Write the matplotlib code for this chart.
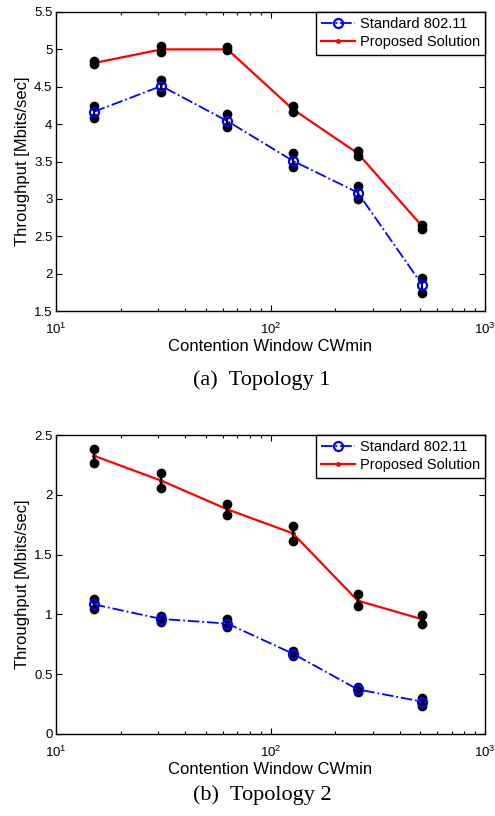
import matplotlib
matplotlib.use("Agg")
import matplotlib.pyplot as plt
from matplotlib.ticker import LogLocator, NullFormatter, FixedLocator

cw = [15, 31, 63, 127, 255, 511]

# Topology 1
t1_std_mean = [4.165, 4.51, 4.04, 3.51, 3.085, 1.845]
t1_std_lo = [4.085, 4.433, 3.955, 3.42, 3.0, 1.746]
t1_std_hi = [4.245, 4.585, 4.13, 3.61, 3.174, 1.942]
t1_prop_mean = [4.817, 5.0, 5.0, 4.20, 3.61, 2.63]
t1_prop_lo = [4.80, 4.97, 4.995, 4.16, 3.576, 2.594]
t1_prop_hi = [4.84, 5.05, 5.03, 4.245, 3.643, 2.647]

# Topology 2
t2_std_mean = [1.084, 0.962, 0.923, 0.672, 0.373, 0.270]
t2_std_lo = [1.042, 0.939, 0.892, 0.652, 0.354, 0.237]
t2_std_hi = [1.126, 0.987, 0.959, 0.691, 0.390, 0.304]
t2_prop_mean = [2.327, 2.118, 1.878, 1.678, 1.115, 0.959]
t2_prop_lo = [2.269, 2.054, 1.834, 1.614, 1.068, 0.920]
t2_prop_hi = [2.383, 2.182, 1.920, 1.742, 1.168, 0.998]

t1_yticks = [1.5, 2, 2.5, 3, 3.5, 4, 4.5, 5, 5.5]
t1_yticklabels = ["1.5", "2", "2.5", "3", "3.5", "4", "4.5", "5", "5.5"]
t2_yticks = [0, 0.5, 1, 1.5, 2, 2.5]
t2_yticklabels = ["0", "0.5", "1", "1.5", "2", "2.5"]

series_labels = ["Standard 802.11", "Proposed Solution"]
captions = ["(a)  Topology 1", "(b)  Topology 2"]
xlabel = "Contention Window CWmin"
ylabel = "Throughput [Mbits/sec]"

plt.rcParams['font.family'] = ['Liberation Sans', 'DejaVu Sans']
plt.rcParams['mathtext.fontset'] = 'custom'
plt.rcParams['mathtext.rm'] = 'Liberation Sans'

fig = plt.figure(figsize=(4.95, 8.16), dpi=100)
W, H = 495, 816
ax1 = fig.add_axes([56 / W, 1 - 311 / H, (485 - 56) / W, (311 - 12) / H])
ax2 = fig.add_axes([56 / W, 1 - 734 / H, (485 - 56) / W, (734 - 435) / H])


def draw(ax, sm, slo, shi, pm, plo, phi, yticks, yticklabels, ylim,
         caption, cap_y):
    # error bars
    for m, lo, hi in ((sm, slo, shi), (pm, plo, phi)):
        ax.vlines(cw, lo, hi, colors='black', linewidth=1.6, zorder=4)
        ax.plot(cw, lo, linestyle='none', marker='o', markersize=6,
                color='black', zorder=5)
        ax.plot(cw, hi, linestyle='none', marker='o', markersize=6,
                color='black', zorder=5)
    ax.plot(cw, sm, color='blue', linestyle='-.', linewidth=1.3,
            marker='o', markersize=6.5, markerfacecolor='none',
            markeredgecolor='blue', markeredgewidth=1.6,
            label=series_labels[0], zorder=6)
    ax.plot(cw, pm, color='red', linestyle='-', linewidth=1.6,
            marker='.', markersize=5, label=series_labels[1], zorder=3)
    ax.set_xscale('log')
    ax.set_xlim(10, 1000)
    ax.set_ylim(*ylim)
    ax.set_yticks(yticks)
    ax.set_yticklabels(yticklabels)
    ax.xaxis.set_major_locator(FixedLocator([10, 100, 1000]))
    ax.set_xticklabels([r'$10^{1}$', r'$10^{2}$', r'$10^{3}$'])
    ax.xaxis.set_minor_locator(LogLocator(base=10, subs=range(2, 10)))
    ax.xaxis.set_minor_formatter(NullFormatter())
    ax.tick_params(which='both', direction='in', top=True, right=True,
                   labelsize=9.5, width=0.8)
    ax.tick_params(axis='y', pad=2.5)
    ax.tick_params(axis='x', pad=7.5)
    ax.tick_params(which='major', length=4)
    ax.tick_params(which='minor', length=2.5)
    for s in ax.spines.values():
        s.set_linewidth(1.0)
    ax.set_xlabel(xlabel, fontsize=12, labelpad=1.5)
    ax.set_ylabel(ylabel, fontsize=12, labelpad=3)
    leg = ax.legend(loc='upper right', fontsize=10.5, fancybox=False,
                    framealpha=1, edgecolor='black', borderaxespad=0.0,
                    handlelength=2.3, handletextpad=0.35, borderpad=0.35,
                    labelspacing=0.3)
    leg.get_frame().set_linewidth(1.0)
    fig.text(262 / W, 1 - cap_y / H, caption, ha='center',
             va='center', fontsize=16, family=['Liberation Serif'])


draw(ax1, t1_std_mean, t1_std_lo, t1_std_hi, t1_prop_mean, t1_prop_lo,
     t1_prop_hi, t1_yticks, t1_yticklabels, (1.5, 5.5), captions[0], 380)
draw(ax2, t2_std_mean, t2_std_lo, t2_std_hi, t2_prop_mean, t2_prop_lo,
     t2_prop_hi, t2_yticks, t2_yticklabels, (0, 2.5), captions[1], 795)

fig.savefig('out.png', dpi=100)
